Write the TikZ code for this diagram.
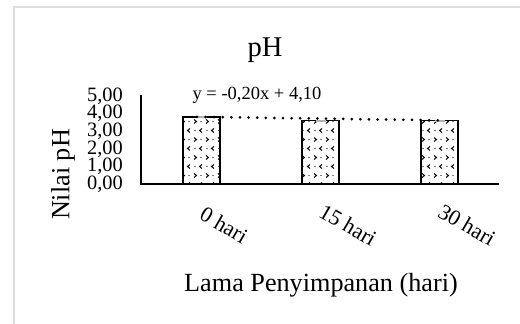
\documentclass[tikz,border=0pt]{standalone}
\usepackage{fontspec}
\setmainfont{Liberation Serif}
\usetikzlibrary{patterns}

% small chevrons and dots, as in the bar fill
\pgfdeclarepatternformonly{chevdots}{\pgfqpoint{-1pt}{-1pt}}{\pgfqpoint{13pt}{19pt}}{\pgfqpoint{12pt}{18pt}}{%
  \pgfsetlinewidth{1pt}
  \pgfpathmoveto{\pgfqpoint{2pt}{6.5pt}}\pgfpathlineto{\pgfqpoint{4.5pt}{4.5pt}}\pgfpathlineto{\pgfqpoint{2pt}{2.5pt}}
  \pgfpathmoveto{\pgfqpoint{10pt}{15.5pt}}\pgfpathlineto{\pgfqpoint{7.5pt}{13.5pt}}\pgfpathlineto{\pgfqpoint{10pt}{11.5pt}}
  \pgfusepath{stroke}
  \pgfpathcircle{\pgfqpoint{9pt}{4.5pt}}{0.7pt}
  \pgfpathcircle{\pgfqpoint{3pt}{13.5pt}}{0.7pt}
  \pgfusepath{fill}
}

\begin{document}
\begin{tikzpicture}[x=1pt,y=1pt,
    tick/.style={font=\fontsize{20.4}{22}\selectfont,anchor=east,inner sep=0pt},
    cat/.style={font=\fontsize{22}{24}\selectfont,rotate=-30,inner sep=0pt},
    bar/.style={draw=black,line width=1.5pt,pattern=chevdots},
    errcap/.style={draw=gray!60,line width=2pt},
    trend/.style={line width=3pt,line cap=round,dash pattern=on 0pt off 8.6pt}]
    \useasboundingbox (0,0) rectangle (520,324);

    % draw the chart frame
    \draw[gray!25,line width=1.5pt] (14,0) -- (14,317) -- (520,317);

    % the title
    \node[font=\fontsize{28.6}{30}\selectfont,anchor=base] (title) at (265,267) {pH};

    % draw the bars
    \draw[bar] (183,140) rectangle (220,206.9);
    \draw[bar] (302,140) rectangle (339,203.4);
    \draw[bar] (421,140) rectangle (458,203.4);

    % the error bars are only small caps on the bar tops
    \draw[errcap] (196.5,206.9) -- (206.5,206.9);
    \draw[errcap] (315.5,203.4) -- (325.5,203.4);
    \draw[errcap] (434.5,203.4) -- (444.5,203.4);

    % draw the coordinates
    \draw[line width=1.5pt] (141,229) -- (141,140) -- (499,140);

    % tick labels on the y axis
    \node[tick] (t0) at (123,140)   {0,00};
    \node[tick] (t1) at (123,157.6) {1,00};
    \node[tick] (t2) at (123,175.2) {2,00};
    \node[tick] (t3) at (123,192.8) {3,00};
    \node[tick] (t4) at (123,210.4) {4,00};
    \node[tick] (t5) at (123,228)   {5,00};

    % trend line and its equation
    \coordinate (tr0) at (197,207.2);
    \coordinate (tr30) at (443,203.6);
    \draw[trend] (tr0) -- (tr30);
    \node[font=\fontsize{18.5}{20}\selectfont] (eq) at (257,229) {y = -0,20x + 4,10};

    % category labels, turned
    \node[cat] (c0)  at (224,99) {0 hari};
    \node[cat] (c15) at (348,99) {15 hari};
    \node[cat] (c30) at (467,99) {30 hari};

    % axis titles
    \node[font=\fontsize{26.2}{28}\selectfont,rotate=90] (ytitle) at (63,149.5) {Nilai pH};
    \node[font=\fontsize{26.2}{28}\selectfont,anchor=base] (xtitle) at (321,32.3) {Lama Penyimpanan (hari)};
\end{tikzpicture}
\end{document}
